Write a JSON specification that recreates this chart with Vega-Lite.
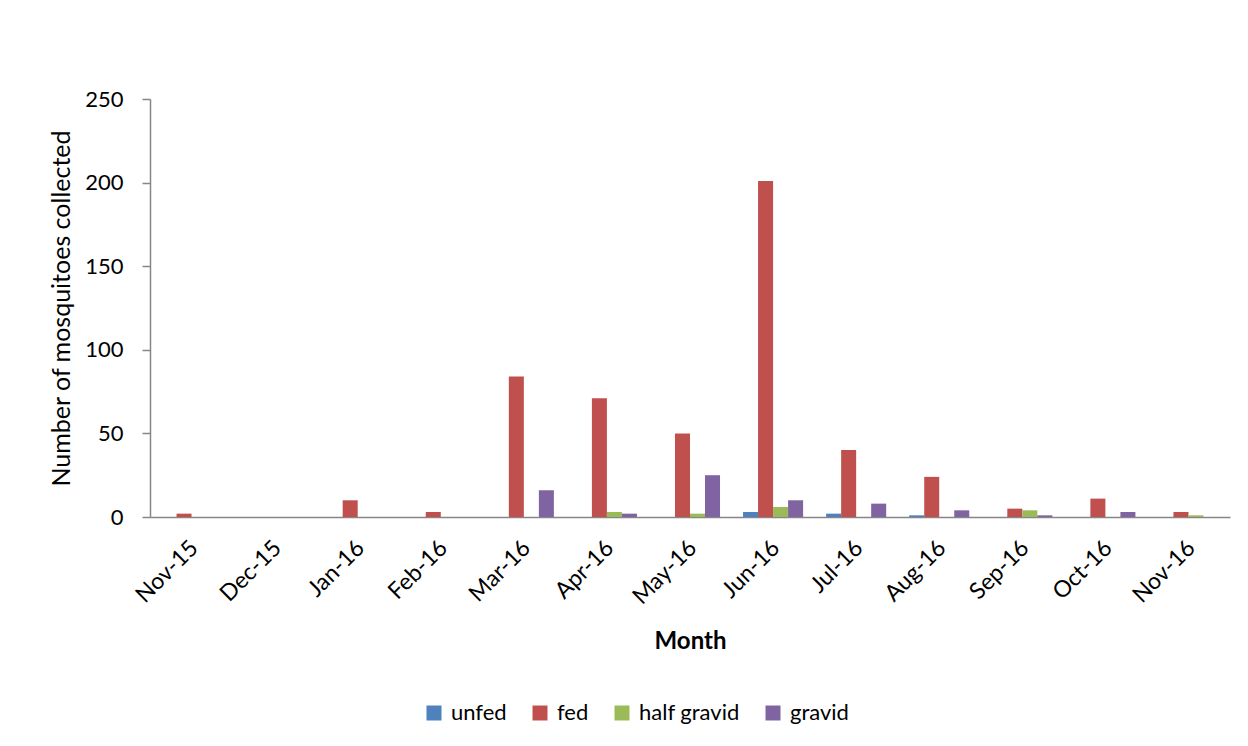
{
  "$schema": "https://vega.github.io/schema/vega-lite/v6.json",
  "autosize": {"type": "none"},
  "width": 1080,
  "height": 418,
  "padding": {"left": 150, "top": 99, "right": 18, "bottom": 229},
  "background": "white",
  "data": {
    "values": [
      {"month": "Nov-15", "stage": "unfed", "count": 0},
      {"month": "Nov-15", "stage": "fed", "count": 2},
      {"month": "Nov-15", "stage": "half gravid", "count": 0},
      {"month": "Nov-15", "stage": "gravid", "count": 0},
      {"month": "Dec-15", "stage": "unfed", "count": 0},
      {"month": "Dec-15", "stage": "fed", "count": 0},
      {"month": "Dec-15", "stage": "half gravid", "count": 0},
      {"month": "Dec-15", "stage": "gravid", "count": 0},
      {"month": "Jan-16", "stage": "unfed", "count": 0},
      {"month": "Jan-16", "stage": "fed", "count": 10},
      {"month": "Jan-16", "stage": "half gravid", "count": 0},
      {"month": "Jan-16", "stage": "gravid", "count": 0},
      {"month": "Feb-16", "stage": "unfed", "count": 0},
      {"month": "Feb-16", "stage": "fed", "count": 3},
      {"month": "Feb-16", "stage": "half gravid", "count": 0},
      {"month": "Feb-16", "stage": "gravid", "count": 0},
      {"month": "Mar-16", "stage": "unfed", "count": 0},
      {"month": "Mar-16", "stage": "fed", "count": 84},
      {"month": "Mar-16", "stage": "half gravid", "count": 0},
      {"month": "Mar-16", "stage": "gravid", "count": 16},
      {"month": "Apr-16", "stage": "unfed", "count": 0},
      {"month": "Apr-16", "stage": "fed", "count": 71},
      {"month": "Apr-16", "stage": "half gravid", "count": 3},
      {"month": "Apr-16", "stage": "gravid", "count": 2},
      {"month": "May-16", "stage": "unfed", "count": 0},
      {"month": "May-16", "stage": "fed", "count": 50},
      {"month": "May-16", "stage": "half gravid", "count": 2},
      {"month": "May-16", "stage": "gravid", "count": 25},
      {"month": "Jun-16", "stage": "unfed", "count": 3},
      {"month": "Jun-16", "stage": "fed", "count": 201},
      {"month": "Jun-16", "stage": "half gravid", "count": 6},
      {"month": "Jun-16", "stage": "gravid", "count": 10},
      {"month": "Jul-16", "stage": "unfed", "count": 2},
      {"month": "Jul-16", "stage": "fed", "count": 40},
      {"month": "Jul-16", "stage": "half gravid", "count": 0},
      {"month": "Jul-16", "stage": "gravid", "count": 8},
      {"month": "Aug-16", "stage": "unfed", "count": 1},
      {"month": "Aug-16", "stage": "fed", "count": 24},
      {"month": "Aug-16", "stage": "half gravid", "count": 0},
      {"month": "Aug-16", "stage": "gravid", "count": 4},
      {"month": "Sep-16", "stage": "unfed", "count": 0},
      {"month": "Sep-16", "stage": "fed", "count": 5},
      {"month": "Sep-16", "stage": "half gravid", "count": 4},
      {"month": "Sep-16", "stage": "gravid", "count": 1},
      {"month": "Oct-16", "stage": "unfed", "count": 0},
      {"month": "Oct-16", "stage": "fed", "count": 11},
      {"month": "Oct-16", "stage": "half gravid", "count": 0},
      {"month": "Oct-16", "stage": "gravid", "count": 3},
      {"month": "Nov-16", "stage": "unfed", "count": 0},
      {"month": "Nov-16", "stage": "fed", "count": 3},
      {"month": "Nov-16", "stage": "half gravid", "count": 1},
      {"month": "Nov-16", "stage": "gravid", "count": 0}
    ]
  },
  "mark": {"type": "bar"},
  "encoding": {
    "x": {
      "field": "month",
      "type": "nominal",
      "sort": null,
      "scale": {"paddingInner": 0.277, "paddingOuter": 0.1385},
      "axis": {
        "title": "Month",
        "titleFont": "Lato",
        "titleFontSize": 24,
        "titleFontWeight": "bold",
        "titleColor": "black",
        "titlePadding": 21,
        "labelFont": "Lato",
        "labelFontSize": 23,
        "labelColor": "black",
        "labelAngle": -45,
        "labelAlign": "right",
        "labelBaseline": "middle",
        "labelPadding": 27,
        "labelOffset": 3,
        "ticks": false,
        "domainColor": "#868686",
        "domainWidth": 1.5,
        "grid": false
      }
    },
    "xOffset": {
      "field": "stage",
      "type": "nominal",
      "sort": ["unfed", "fed", "half gravid", "gravid"]
    },
    "y": {
      "field": "count",
      "type": "quantitative",
      "scale": {"domain": [0, 250], "nice": false},
      "axis": {
        "title": "Number of mosquitoes collected",
        "titleFont": "Lato",
        "titleFontSize": 25,
        "titleFontWeight": "normal",
        "titleColor": "black",
        "titlePadding": 10,
        "values": [0, 50, 100, 150, 200, 250],
        "labelFont": "Lato",
        "labelFontSize": 22,
        "labelColor": "black",
        "labelPadding": 19,
        "tickColor": "#868686",
        "tickSize": 8,
        "tickWidth": 1.5,
        "domainColor": "#868686",
        "domainWidth": 1.5,
        "grid": false
      }
    },
    "color": {
      "field": "stage",
      "type": "nominal",
      "sort": ["unfed", "fed", "half gravid", "gravid"],
      "scale": {
        "domain": ["unfed", "fed", "half gravid", "gravid"],
        "range": ["#4F81BD", "#C0504D", "#9BBB59", "#8064A2"]
      },
      "legend": {
        "title": null,
        "orient": "none",
        "legendX": 273,
        "legendY": 603,
        "direction": "horizontal",
        "symbolType": "square",
        "symbolSize": 225,
        "symbolStrokeWidth": 0,
        "labelFont": "Lato",
        "labelFontSize": 22,
        "labelColor": "black",
        "labelOffset": 6,
        "columnPadding": 22
      }
    }
  },
  "config": {"view": {"stroke": null}}
}
